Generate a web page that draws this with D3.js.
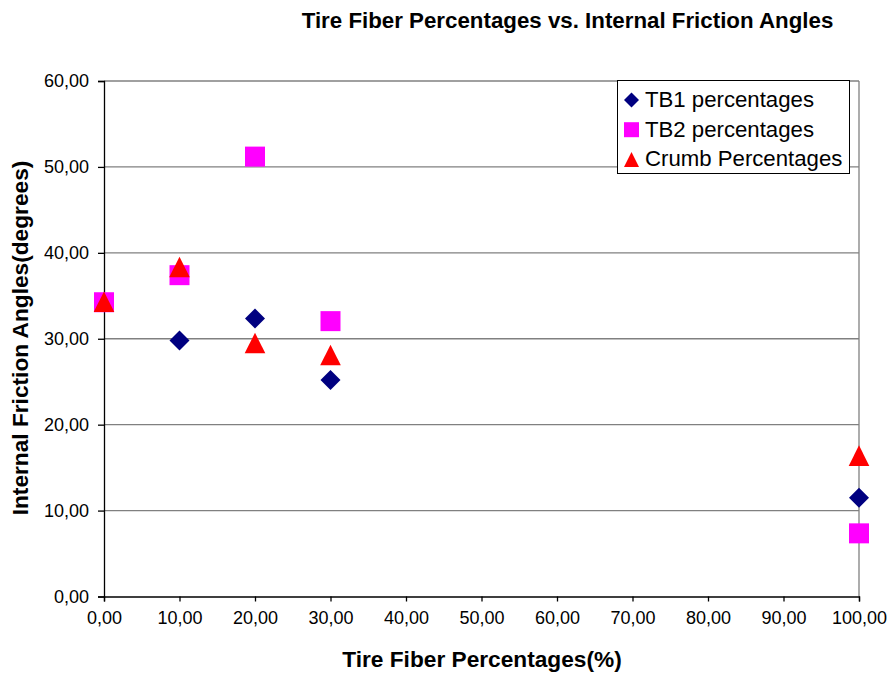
<!DOCTYPE html>
<html>
<head>
<meta charset="utf-8">
<script src="https://cdn.jsdelivr.net/npm/d3@7"></script>
<style>
  body { margin: 0; background: #fff; }
  svg { display: block; font-family: "Liberation Sans", Arial, sans-serif; }
</style>
</head>
<body>
<svg id="chart" width="892" height="675"></svg>
<script>
// Fiber percentages (x) and friction angles (y) for each series
const fiberPct = [0, 10, 20, 30, 100];
const tb1Angles = [null, 29.8, 32.35, 25.2, 11.5];
const tb2Angles = [34.25, 37.4, 51.2, 32.05, 7.35];
const crumbAngles = [34.3, 38.35, 29.5, 28.1, 16.4];

const xTicks = [0, 10, 20, 30, 40, 50, 60, 70, 80, 90, 100];
const yTicks = [0, 10, 20, 30, 40, 50, 60];

const seriesNames = ["TB1 percentages", "TB2 percentages", "Crumb Percentages"];
const seriesColors = ["#000080", "#FF00FF", "#FF0000"];
const seriesValues = [tb1Angles, tb2Angles, crumbAngles];

// Marker shapes (spreadsheet style): diamond, square, triangle, given half-size r
const shapes = [
  r => `M0,${-r}L${r},0L0,${r}L${-r},0Z`,
  r => `M${-r},${-r}H${r}V${r}H${-r}Z`,
  r => `M0,${-r}L${r},${r}H${-r}Z`
];

const fmt = v => d3.format(".2f")(v).replace(".", ",");

const svg = d3.select("#chart");
const plotLeft = 104, plotRight = 859, plotTop = 81, plotBottom = 596.5;

const x = d3.scaleLinear().domain([0, 100]).range([plotLeft, plotRight]);
const y = d3.scaleLinear().domain([0, 60]).range([plotBottom, plotTop]);

// Gridlines
svg.append("g")
  .selectAll("line")
  .data(yTicks.filter(t => t > 0))
  .join("line")
  .attr("x1", plotLeft).attr("x2", plotRight)
  .attr("y1", d => y(d)).attr("y2", d => y(d))
  .attr("stroke", "#808080").attr("stroke-width", 1.3);

// Right border of plot area
svg.append("line")
  .attr("x1", plotRight).attr("x2", plotRight)
  .attr("y1", plotTop).attr("y2", plotBottom)
  .attr("stroke", "#808080").attr("stroke-width", 1.3);

// Axes
const xAxis = d3.axisBottom(x).tickValues(xTicks).tickFormat(fmt).tickSize(5).tickPadding(7);
const yAxis = d3.axisLeft(y).tickValues(yTicks).tickFormat(fmt).tickSize(6).tickPadding(9);

const gx = svg.append("g").attr("transform", `translate(0,${plotBottom})`).call(xAxis);
const gy = svg.append("g").attr("transform", `translate(${plotLeft},0)`).call(yAxis);
[gx, gy].forEach(g => {
  g.select(".domain").attr("stroke", "#000").attr("stroke-width", 1.3);
  g.selectAll(".tick line").attr("stroke", "#000").attr("stroke-width", 1.3);
  g.selectAll(".tick text").attr("font-size", 18).attr("fill", "#000")
    .attr("font-family", "Liberation Sans, Arial, sans-serif");
});
gx.selectAll(".tick text").attr("dy", "0.87em");

// Markers
const markerR = [10, 10, 10.3];
seriesValues.forEach((vals, si) => {
  const pts = fiberPct.map((p, i) => ({ p, v: vals[i] })).filter(d => d.v != null);
  svg.append("g")
    .selectAll("path")
    .data(pts)
    .join("path")
    .attr("d", shapes[si](markerR[si]))
    .attr("transform", d => `translate(${x(d.p)},${y(d.v)})`)
    .attr("fill", seriesColors[si]);
});

// Legend
const lg = svg.append("g");
lg.append("rect")
  .attr("x", 617.5).attr("y", 80.5).attr("width", 232).attr("height", 93)
  .attr("fill", "#fff").attr("stroke", "#000").attr("stroke-width", 1);
seriesNames.forEach((name, i) => {
  const cy = 100 + i * 29.7;
  lg.append("path")
    .attr("d", shapes[i](7.5))
    .attr("transform", `translate(631.5,${cy})`)
    .attr("fill", seriesColors[i]);
  lg.append("text")
    .attr("x", 645).attr("y", cy + 6.8)
    .attr("font-size", 22.2).attr("fill", "#000")
    .text(name);
});

// Titles
svg.append("text")
  .attr("x", 567.5).attr("y", 28)
  .attr("text-anchor", "middle")
  .attr("font-size", 22.3).attr("font-weight", "bold")
  .text("Tire Fiber Percentages vs. Internal Friction Angles");

svg.append("text")
  .attr("x", 482).attr("y", 667)
  .attr("text-anchor", "middle")
  .attr("font-size", 22.7).attr("font-weight", "bold")
  .text("Tire Fiber Percentages(%)");

svg.append("text")
  .attr("transform", "translate(28,338) rotate(-90)")
  .attr("text-anchor", "middle")
  .attr("font-size", 22.7).attr("font-weight", "bold")
  .text("Internal Friction Angles(degrees)");
</script>
</body>
</html>
